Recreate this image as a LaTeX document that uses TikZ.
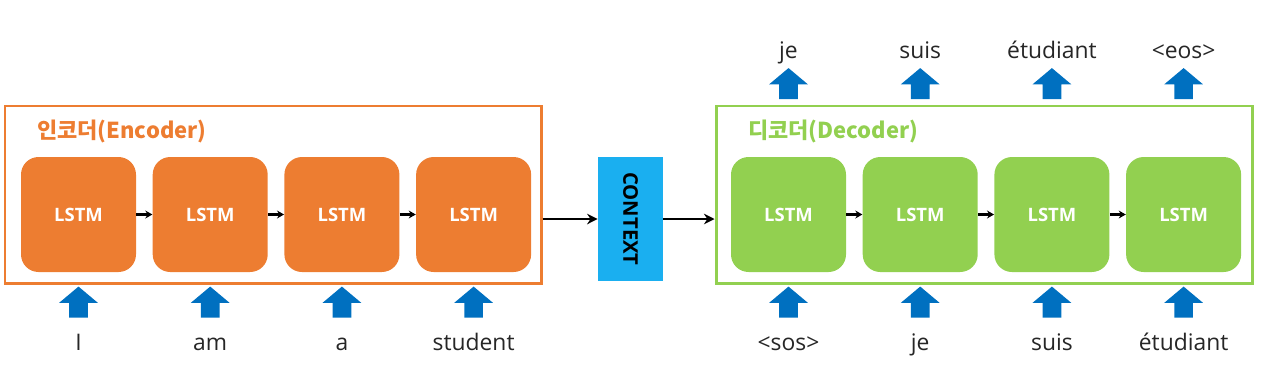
\documentclass[tikz,border=0pt]{standalone}
\usepackage{fontspec}
\setmainfont{Open Sans}
\newfontfamily\krfont{Noto Sans CJK KR}
\usepackage{tikz}
\usetikzlibrary{shapes.arrows,arrows.meta,positioning}
\definecolor{encorange}{RGB}{237,125,49}
\definecolor{decgreen}{RGB}{146,208,80}
\definecolor{ctxblue}{RGB}{26,175,240}
\definecolor{inblue}{RGB}{0,112,192}

\begin{document}
\begin{tikzpicture}[
  %% styles
  frame/.style={rectangle, draw=#1, line width=1.7pt,
                minimum width=10.72cm, minimum height=3.54cm},
  lstm/.style={rectangle, rounded corners=10pt, fill=#1,
               minimum size=2.3cm, inner sep=0pt,
               text=white, font=\fontsize{10.5}{12}\selectfont\bfseries},
  ctxbox/.style={rectangle, fill=ctxblue, minimum width=1.3cm,
                 minimum height=2.48cm, inner sep=0pt},
  uparr/.style={single arrow, shape border rotate=90, fill=inblue,
                minimum height=0.62cm, inner xsep=0.18cm, inner ysep=0pt,
                single arrow head extend=0.2cm, single arrow tip angle=100},
  word/.style={anchor=base, font=\fontsize{13}{15}\selectfont, text=black!85},
  ttl/.style={anchor=west, text=#1,
              font=\krfont\fontsize{12.5}{14}\selectfont\bfseries},
  link/.style={-{Stealth[length=6pt,width=6pt]}, line width=1.3pt},
  small/.style={-{Stealth[length=4pt,width=4.5pt]}, line width=1.2pt},
]

%% canvas (1272 x 372 px, 1px = 0.02cm)
\useasboundingbox (0,0) rectangle (25.44,-7.44);

%% ------ frames ---------------------------------------------------------
\node[frame=encorange] (enc) at (5.46,-3.89) {};
\node[frame=decgreen]  (dec) at (19.68,-3.89) {};

\node[ttl=encorange] (enct) at (0.62,-2.62) {인코더(Encoder)};
\node[ttl=decgreen]  (dect) at (14.84,-2.62) {디코더(Decoder)};

%% ------ encoder cells --------------------------------------------------
\node[lstm=encorange] (e1) at (1.57,-4.29) {LSTM};
\node[lstm=encorange, right=0.32cm of e1] (e2) {LSTM};
\node[lstm=encorange, right=0.32cm of e2] (e3) {LSTM};
\node[lstm=encorange, right=0.32cm of e3] (e4) {LSTM};

%% ------ context --------------------------------------------------------
\node[ctxbox] (ctx) at (12.61,-4.38) {};
\node[rotate=-90, font=\fontsize{11.5}{13}\selectfont\bfseries] (ctxt)
  at (ctx.center) {CONTEXT};

%% ------ decoder cells --------------------------------------------------
\node[lstm=decgreen] (d1) at (15.77,-4.29) {LSTM};
\node[lstm=decgreen, right=0.32cm of d1] (d2) {LSTM};
\node[lstm=decgreen, right=0.32cm of d2] (d3) {LSTM};
\node[lstm=decgreen, right=0.32cm of d3] (d4) {LSTM};

%% ------ recurrent links ------------------------------------------------
\foreach \a/\b in {e1/e2,e2/e3,e3/e4,d1/d2,d2/d3,d3/d4}
  \draw[small] (\a) -- (\b);

\draw[link] (ctx.west -| enc.east) -- (ctx.west);
\draw[link] (ctx.east) -- (ctx.east -| dec.west);

%% ------ inputs (below) -------------------------------------------------
\foreach \n/\w in {e1/I,e2/am,e3/a,e4/student,
                   d1/{<sos>},d2/je,d3/suis,d4/étudiant} {
  \node[uparr] (in-\n) at ([yshift=-1.83cm]\n.center) {};
  \node[word] (w-\n) at ([yshift=-2.71cm]\n.center) {\w};
}

%% ------ outputs (above) ------------------------------------------------
\foreach \n/\w in {d1/je,d2/suis,d3/étudiant,d4/{<eos>}} {
  \node[uparr] (out-\n) at ([yshift=2.54cm]\n.center) {};
  \node[word] (o-\n) at ([yshift=3.13cm]\n.center) {\w};
}

\end{tikzpicture}
\end{document}
